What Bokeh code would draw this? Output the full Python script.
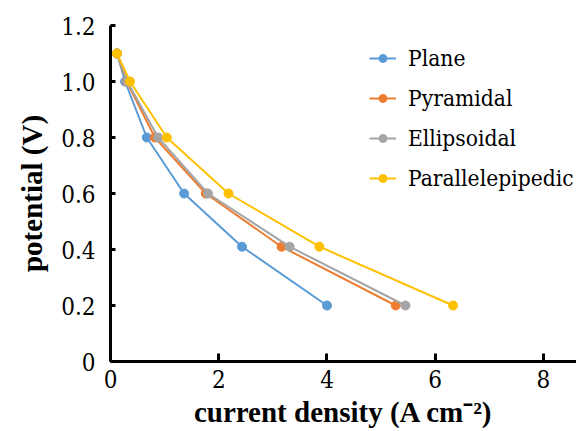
from bokeh.plotting import figure
from bokeh.models import Range1d, FixedTicker, CustomJSTickFormatter, Legend, LegendItem
from bokeh.embed import file_html
from bokeh.resources import INLINE

# Data
potential = [1.1, 1.0, 0.8, 0.6, 0.41, 0.2]
plane = [0.12, 0.27, 0.67, 1.36, 2.43, 4.0]
pyramidal = [0.12, 0.30, 0.82, 1.76, 3.16, 5.27]
ellipsoidal = [0.12, 0.31, 0.88, 1.80, 3.31, 5.45]
parallelepipedic = [0.12, 0.36, 1.04, 2.18, 3.86, 6.33]

series_names = ["Plane", "Pyramidal", "Ellipsoidal", "Parallelepipedic"]
series_values = [plane, pyramidal, ellipsoidal, parallelepipedic]
colors = ["#5B9BD5", "#ED7D31", "#A5A5A5", "#FFC000"]

x_ticks = [0, 2, 4, 6, 8]
y_ticks = [0, 0.2, 0.4, 0.6, 0.8, 1.0, 1.2]

BOLD_FONT = "Liberation Serif"
REG_FONT = "'DejaVu Serif Condensed', 'DejaVu Serif', serif"

p = figure(width=576, height=431, output_backend="svg", toolbar_location=None,
           x_range=Range1d(0, 8.61), y_range=Range1d(0, 1.2),
           min_border_left=110, min_border_right=0, min_border_top=25, min_border_bottom=70)

p.xgrid.grid_line_color = None
p.ygrid.grid_line_color = None
p.outline_line_color = None
p.background_fill_color = "white"

items = []
for name, xs, c in zip(series_names, series_values, colors):
    l = p.line(xs, potential, line_color=c, line_width=2)
    s = p.scatter(xs, potential, size=9, fill_color=c, line_color=c)
    items.append(LegendItem(label=name, renderers=[l, s]))

legend = Legend(items=items, location=(259, 170),
                label_text_font=REG_FONT,
                label_text_font_size="22.6px", label_text_color="black")
legend.border_line_color = None
legend.background_fill_alpha = 0
legend.padding = 0
legend.margin = 0
legend.spacing = 14
legend.glyph_width = 27
legend.glyph_height = 20
legend.label_standoff = 12
p.add_layout(legend, "center")

for ax in (p.xaxis[0], p.yaxis[0]):
    ax.axis_line_width = 3
    ax.axis_line_color = "black"
    ax.major_tick_line_width = 3
    ax.major_tick_line_color = "black"
    ax.major_tick_out = 0
    ax.minor_tick_line_color = None
    ax.major_label_text_font = REG_FONT
    ax.major_label_text_font_size = "24px"
    ax.major_label_text_color = "black"
    ax.axis_label_text_font = BOLD_FONT
    ax.axis_label_text_font_size = "29px"
    ax.axis_label_text_font_style = "bold"
    ax.axis_label_text_color = "black"

p.xaxis.ticker = FixedTicker(ticks=x_ticks)
p.yaxis.ticker = FixedTicker(ticks=y_ticks)
p.xaxis.major_tick_in = 8
p.yaxis.major_tick_in = 5
p.yaxis.formatter = CustomJSTickFormatter(code="return tick == 0 ? '0' : tick.toFixed(1);")
p.xaxis.major_label_standoff = 8
p.yaxis.major_label_standoff = 15
p.xaxis.axis_label_standoff = 5
p.yaxis.axis_label_standoff = 10
p.xaxis.axis_label = "current density (A cm\u207b\u00b2)"
p.yaxis.axis_label = "potential (V)"

open("out.html", "w").write(file_html(p, INLINE))
